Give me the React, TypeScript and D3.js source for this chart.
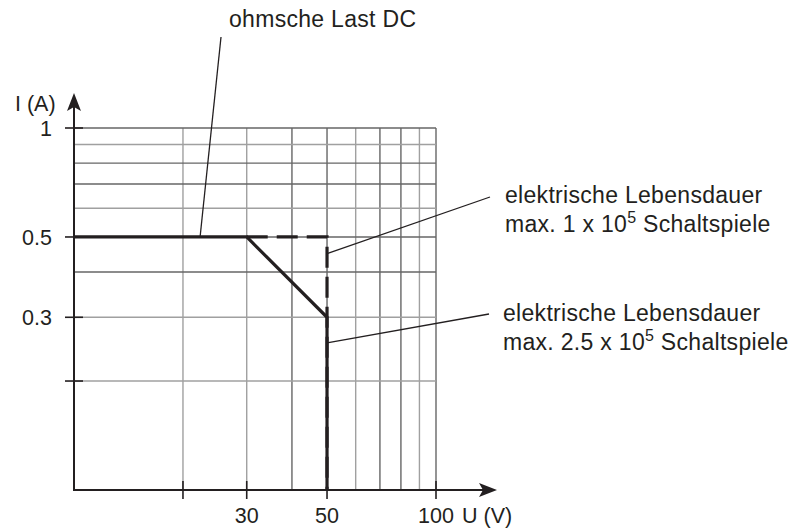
import React from "react";
import * as d3 from "d3";

const xGrid = [20, 30, 40, 50, 60, 70, 80, 90, 100];
const xGridTone = ["light", "light", "dark", "dark", "light", "dark", "dark", "light", "dark"];
const yGrid = [0.2, 0.3, 0.4, 0.5, 0.6, 0.7, 0.8, 0.9, 1];
const yGridTone = ["light", "light", "dark", "dark", "light", "dark", "dark", "light", "dark"];
const xTicks = [20, 30, 50, 100];
const xTickLabels = ["", "30", "50", "100"];
const yTicks = [0.2, 0.3, 0.5, 1];
const yTickLabels = ["", "0.3", "0.5", "1"];
const solidU = [10, 30, 50, 50];
const solidI = [0.5, 0.5, 0.3, 0.1];
const dashedU = [30, 50, 50];
const dashedI = [0.5, 0.5, 0.1];
// leader line targets on curves (data coordinates)
const leaderTargetU = [22.3, 50, 50];
const leaderTargetI = [0.5, 0.45, 0.255];

const W = 794;
const H = 531;
const FONT = "'Liberation Sans', Arial, Helvetica, sans-serif";
const INK = "#231f20";

export default function App() {
  const x = d3.scaleLog().domain([10, 100]).range([74, 436]);
  const y = d3.scaleLog().domain([0.1, 1]).range([490, 128]);
  const line = d3
    .line<[number, number]>()
    .x((d) => x(d[0]))
    .y((d) => y(d[1]));
  const solidPts = solidU.map((u, i) => [u, solidI[i]] as [number, number]);
  const dashedPts = dashedU.map((u, i) => [u, dashedI[i]] as [number, number]);
  const x0 = x(10);
  const y0 = y(0.1);
  const gridTop = y(1);
  const gridRight = x(100);
  const toneColor = (t: string) => (t === "light" ? "#a0a0a0" : "#666666");

  const leaders = [
    { sx: 221, sy: 37 },
    { sx: 490, sy: 197 },
    { sx: 489, sy: 314 },
  ];

  const textStyle: React.CSSProperties = {
    fontFamily: FONT,
    fontSize: 23,
    letterSpacing: 0.3,
    fill: INK,
  };
  const tickStyle: React.CSSProperties = {
    fontFamily: FONT,
    fontSize: 21.5,
    fill: INK,
  };

  return (
    <svg
      width={W}
      height={H}
      style={{ position: "absolute", left: 0, top: 0, background: "#fff" }}
    >
      <rect x={0} y={0} width={W} height={H} fill="#fff" />
      {/* grid */}
      {xGrid.map((v, i) => (
        <line
          key={"vx" + v}
          x1={x(v)}
          x2={x(v)}
          y1={gridTop}
          y2={y0}
          stroke={toneColor(xGridTone[i])}
          strokeWidth={1.4}
        />
      ))}
      {yGrid.map((v, i) => (
        <line
          key={"hy" + v}
          x1={x0}
          x2={gridRight}
          y1={y(v)}
          y2={y(v)}
          stroke={toneColor(yGridTone[i])}
          strokeWidth={1.4}
        />
      ))}
      {/* axes */}
      <line x1={x0} x2={x0} y1={y0} y2={100} stroke={INK} strokeWidth={2} />
      <line x1={x0 - 1} x2={490} y1={y0} y2={y0} stroke={INK} strokeWidth={2} />
      <path
        d={`M${x0},93 L${x0 + 7},111 L${x0},107 L${x0 - 7},111 Z`}
        fill={INK}
      />
      <path d={`M497,${y0} L479,${y0 - 7} L483,${y0} L479,${y0 + 7} Z`} fill={INK} />
      {/* ticks */}
      {yTicks.map((v, i) => (
        <g key={"yt" + v}>
          <line x1={65} x2={83} y1={y(v)} y2={y(v)} stroke={INK} strokeWidth={1.6} />
          {yTickLabels[i] && (
            <text x={52} y={y(v) + 8} textAnchor="end" style={tickStyle}>
              {yTickLabels[i]}
            </text>
          )}
        </g>
      ))}
      {xTicks.map((v, i) => (
        <g key={"xt" + v}>
          <line x1={x(v)} x2={x(v)} y1={y0 - 9} y2={y0 + 9} stroke={INK} strokeWidth={1.6} />
          {xTickLabels[i] && (
            <text x={x(v)} y={523} textAnchor="middle" style={tickStyle}>
              {xTickLabels[i]}
            </text>
          )}
        </g>
      ))}
      <text x={462} y={523} style={tickStyle}>
        U (V)
      </text>
      <text x={15} y={111} style={tickStyle}>
        I (A)
      </text>
      {/* curves */}
      <path d={line(dashedPts) || ""} fill="none" stroke={INK} strokeWidth={3.2} strokeDasharray="21 9" />
      <path d={line(solidPts) || ""} fill="none" stroke={INK} strokeWidth={3.2} strokeLinejoin="miter" />
      {/* leaders */}
      {leaders.map((l, i) => (
        <line
          key={"ld" + i}
          x1={l.sx}
          y1={l.sy}
          x2={x(leaderTargetU[i])}
          y2={y(leaderTargetI[i])}
          stroke={INK}
          strokeWidth={1.3}
        />
      ))}
      {/* annotations */}
      <text x={229} y={27} style={textStyle}>
        ohmsche Last DC
      </text>
      <text x={505} y={203} style={textStyle}>
        elektrische Lebensdauer
      </text>
      <text x={505} y={232} style={textStyle}>
        max. 1 x 10
        <tspan fontSize={16} dy={-9}>5</tspan>
        <tspan dy={9}> Schaltspiele</tspan>
      </text>
      <text x={503} y={321} style={textStyle}>
        elektrische Lebensdauer
      </text>
      <text x={503} y={350} style={textStyle}>
        max. 2.5 x 10
        <tspan fontSize={16} dy={-9}>5</tspan>
        <tspan dy={9}> Schaltspiele</tspan>
      </text>
    </svg>
  );
}
